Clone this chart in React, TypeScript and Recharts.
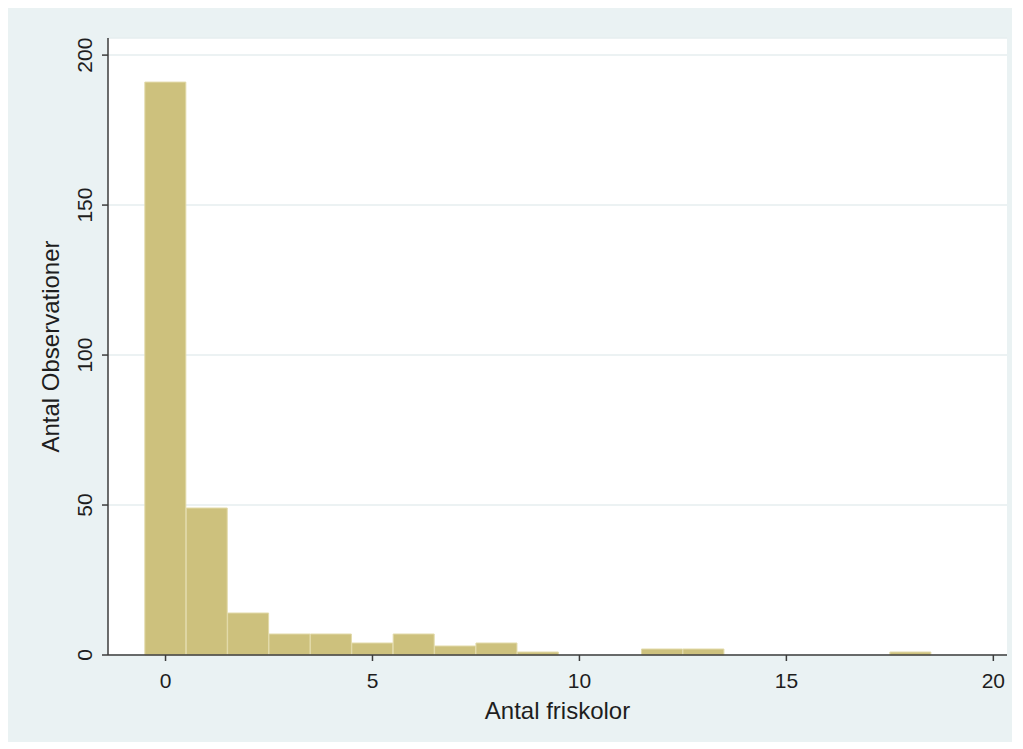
import React from 'react';
import {
  ComposedChart,
  XAxis,
  YAxis,
  CartesianGrid,
  Bar
} from 'recharts';

// histogram bins: number of free schools (bin centre) and observation counts
const bins = [0, 1, 2, 3, 4, 5, 6, 7, 8, 9, 10, 11, 12, 13, 14, 15, 16, 17, 18];
const counts = [191, 49, 14, 7, 7, 4, 7, 3, 4, 1, 0, 0, 2, 2, 0, 0, 0, 0, 1];

const xTicks = [0, 5, 10, 15, 20];
const yTicks = [0, 50, 100, 150, 200];

const xLabel = 'Antal friskolor';
const yLabel = 'Antal Observationer';

const data = bins.map((b, i) => ({ bin: b, count: counts[i] }));

const FONT = '"Liberation Sans", Arial, Helvetica, sans-serif';
const INK = '#1e1e1e';
const AXIS = '#3c3c3c';

const YTick = (props: any) => {
  const { x, y, payload } = props;
  return (
    <text
      x={x}
      y={y}
      textAnchor="middle"
      transform={`rotate(-90 ${x} ${y})`}
      fontFamily={FONT}
      fontSize={21}
      fill={INK}
    >
      {payload.value}
    </text>
  );
};

const YTitle = (props: any) => {
  const { viewBox } = props;
  const cx = viewBox.x + 51;
  const cy = viewBox.y + viewBox.height / 2;
  return (
    <text
      x={cx}
      y={cy}
      textAnchor="middle"
      transform={`rotate(-90 ${cx} ${cy})`}
      fontFamily={FONT}
      fontSize={24}
      fill={INK}
    >
      {yLabel}
    </text>
  );
};

const XTitle = (props: any) => {
  const { viewBox } = props;
  const cx = viewBox.x + viewBox.width / 2;
  return (
    <text x={cx} y={viewBox.y + 64} textAnchor="middle" fontFamily={FONT} fontSize={24} fill={INK}>
      {xLabel}
    </text>
  );
};

const App: React.FC = () => (
  <div style={{ width: 1004, height: 734, background: '#EAF2F3' }}>
    <ComposedChart
      width={1004}
      height={734}
      data={data}
      margin={{ top: 30, right: 5, bottom: 0, left: 0 }}
      barCategoryGap={0}
      barGap={0}
    >
      <CartesianGrid
        vertical={false}
        fill="#ffffff"
        stroke="#E6EEEF"
        strokeWidth={1.5}
      />
      <XAxis
        dataKey="bin"
        type="number"
        domain={[-1.39, 20.33]}
        ticks={xTicks}
        height={87}
        tickSize={6}
        tickMargin={12}
        stroke={AXIS}
        strokeWidth={1.5}
        tick={{ fontFamily: FONT, fontSize: 21, fill: INK }}
        label={<XTitle />}
      />
      <YAxis
        type="number"
        domain={[0, 205.7]}
        ticks={yTicks}
        width={100}
        tickSize={6}
        tickMargin={10}
        stroke={AXIS}
        strokeWidth={1.5}
        tick={<YTick />}
        label={<YTitle />}
      />
      <Bar
        dataKey="count"
        fill="#CDC17D"
        stroke="#E2DAA9"
        strokeWidth={1}
        isAnimationActive={false}
      />
    </ComposedChart>
  </div>
);

export default App;
